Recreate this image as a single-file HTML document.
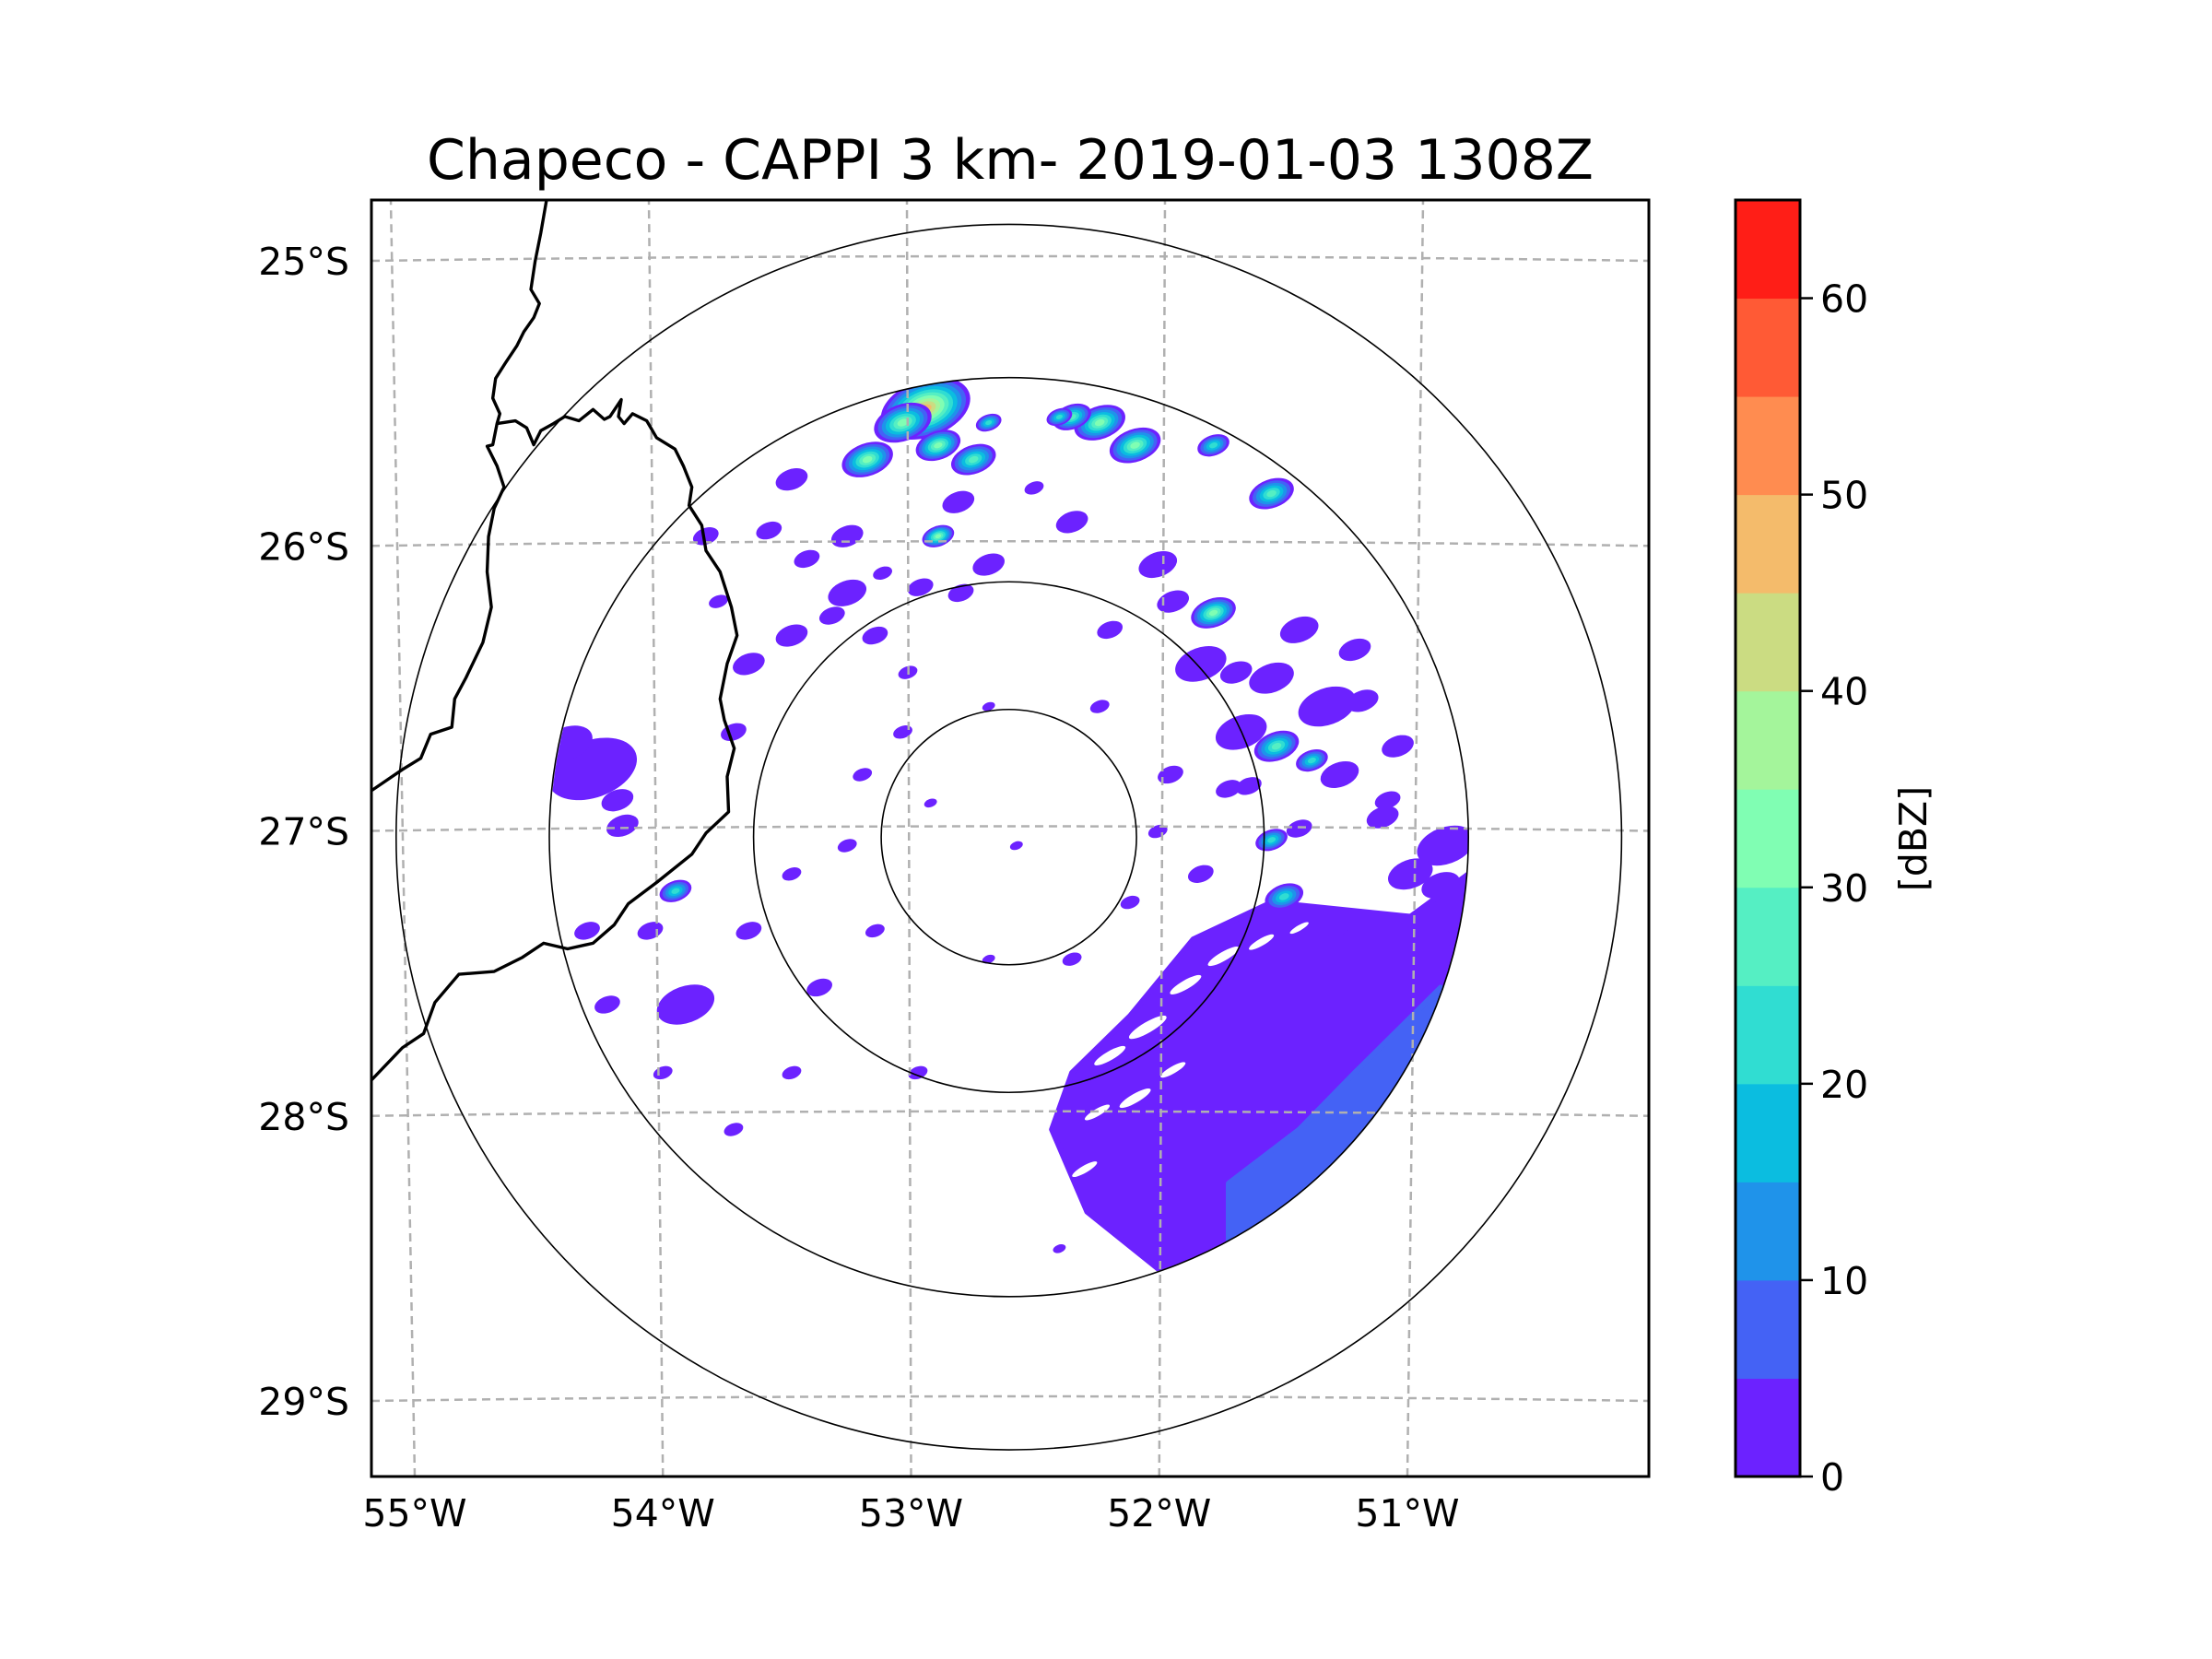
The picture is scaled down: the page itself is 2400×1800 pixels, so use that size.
<!DOCTYPE html>
<html><head><meta charset="utf-8"><title>Chapeco CAPPI</title>
<style>
html,body{margin:0;padding:0;background:#fff;}
svg{display:block;font-family:"DejaVu Sans","Liberation Sans",sans-serif;}
</style></head>
<body>
<svg id="fig" width="2400" height="1800" viewBox="0 0 2400 1800" xmlns="http://www.w3.org/2000/svg">
<rect width="2400" height="1800" fill="#fff"/>
<text x="1096" y="194" font-size="60" text-anchor="middle" fill="#000">Chapeco - CAPPI 3 km- 2019-01-03 1308Z</text>
<defs>
  <clipPath id="axclip"><rect x="403" y="217" width="1386" height="1385"/></clipPath>
  <clipPath id="radclip"><circle cx="1095" cy="908" r="498"/></clipPath>
</defs>
<g id="plot" clip-path="url(#axclip)">
  <g clip-path="url(#radclip)"><g id="echoes"></g></g>
  <g id="grid"></g>
  <g id="rings"></g>
  <g fill="none" stroke="#000" stroke-width="2.2" stroke-linejoin="round" transform="scale(1.532)">
    <polyline points="387,142 383,165 379,185 376,205 382,215 378,225 371,235 366,245 358,257 351,268 349,282 354,293 352,300 349,315 345,316 352,330 357,345 350,360 346,380 345,405 348,430 342,455 330,480 322,495 320,515 305,520 298,537 285,545 263,560"/>
    <polyline points="352,300 365,298 373,303 378,315 383,305 392,300 400,295 410,298 420,290 428,297 432,295 440,283 438,295 442,300 448,293 458,298 465,310 478,318 484,330 490,345 488,358 497,372 500,390 510,405 518,430 522,450 515,470 510,495 513,510 520,530 515,550 516,575 500,590 490,605 465,625 445,640 435,655 420,668 402,672 385,668 370,678 350,688 325,690 308,710 300,732 285,742 263,765"/>
  </g>
</g>
<rect x="403" y="217" width="1386" height="1385" fill="none" stroke="#000" stroke-width="3"/>
<g id="ticks" font-size="41" fill="#000"></g>
<g id="cbar"></g>
<text transform="translate(2090,910) rotate(-90)" font-size="41" text-anchor="middle" fill="#000">[dBZ]</text>
</svg>
<script>
// ---- data ----
const lonTicks = [-55, -54, -53, -52, -51];
const lonTickLabels = ["55°W", "54°W", "53°W", "52°W", "51°W"];
const latTicks = [-25, -26, -27, -28, -29];
const latTickLabels = ["25°S", "26°S", "27°S", "28°S", "29°S"];
const dbzLevels = [0, 5, 10, 15, 20, 25, 30, 35, 40, 45, 50, 55, 60, 65];
const dbzTickValues = [0, 10, 20, 30, 40, 50, 60];
const dbzColors = ["#6c22ff","#4462f5","#1f93ea","#0bbde0","#30ddd2","#55efc3","#80feb3","#a4f59b","#cbdc82","#f4bb6b","#ff8c50","#ff5a35","#ff1e17"];
const ringKm = [50, 100, 180, 240];
const radarLon = -52.60, radarLat = -27.03;
// echo cells
const cellLon = [-52.93,-53.02,-53.16,-52.88,-52.74,-52.24,-52.10,-52.35,-51.79,-51.56,-52.88,-51.79,-51.54,-51.40,-51.56,-51.51,-53.92,-52.40,-52.68,
 -54.25,-53.88,-54.13,-53.46,-53.24,-53.46,-53.63,-53.13,-52.68,-52.35,-52.01,-51.84,-51.56,-51.34,-51.23,-51.06,-50.87,-51.01,-51.12,-51.29,-51.68,
 -51.96,-53.02,-53.18,-52.91,-52.57,-53.24,-53.46,-53.35,-53.63,-53.13,-52.68,-52.35,-52.12,-52.01,-53.46,-53.69,-54.02,-54.27,-54.19,-53.97,-52.96,-52.40,-51.73,-51.84,-52.24,-52.68,-53.69,-53.80,-53.24,-52.79,-50.89,-50.92,
 -54.35,-54.15,-53.40,-53.30,-52.95,-52.80,-52.50,-51.95,-51.70,-51.45,-51.20,-51.10,-51.45,-51.65,-51.30,-53.55,-53.00,-52.20,-53.75,-53.10];
const cellLat = [-25.52,-25.57,-25.70,-25.65,-25.70,-25.57,-25.65,-25.55,-25.65,-25.82,-25.97,-26.24,-26.71,-26.76,-27.04,-27.24,-27.22,-25.55,-25.57,
 -26.79,-27.62,-26.99,-25.77,-26.17,-26.32,-26.42,-26.32,-26.07,-25.92,-26.07,-26.42,-26.47,-26.57,-26.37,-26.71,-27.06,-27.16,-26.96,-26.81,-26.66,
 -26.81,-26.66,-26.81,-26.91,-27.06,-27.06,-27.16,-27.56,-27.36,-27.36,-27.46,-27.46,-27.26,-27.01,-27.86,-28.06,-27.36,-27.36,-27.62,-27.86,-27.86,-28.48,-26.86,-27.16,-26.57,-26.57,-26.66,-25.97,-25.97,-26.17,-27.20,-27.40,
 -26.70,-26.90,-26.05,-26.25,-26.15,-25.85,-25.80,-26.20,-26.45,-26.30,-26.55,-26.90,-27.00,-26.85,-27.35,-25.95,-26.45,-26.30,-26.20,-26.10];
const cellKm = [14,9,8,7,7,8,8,6,5,7,5,7,7,5,5,6,5,4,4,
 14,9,5,5,6,5,5,4,5,5,6,8,7,9,5,5,9,7,5,6,8,
 4,3,3,2,2,3,3,4,4,3,2,3,3,3,3,3,4,4,4,3,3,2,4,4,3,2,4,4,5,4,6,6,
 8,5,4,4,4,5,3,5,5,6,5,4,4,4,4,4,3,4,3,3];
const cellDbz = [47,33,31,30,27,31,30,26,21,26,31,31,25,20,20,22,22,21,21,
 2,3,2,2,2,2,2,2,2,2,2,3,3,4,2,2,3,2,2,2,4,
 1,1,1,1,1,1,1,1,1,1,1,1,1,1,1,1,1,1,1,1,1,1,2,2,1,1,1,1,1,1,2,2,
 1,1,1,1,1,1,1,1,1,1,1,1,1,1,1,1,1,1,1,1];
// large stratiform region (SE)
const regionLon = [-52.35,-52.12,-51.87,-51.56,-51.01,-50.78,-50.67,-51.01,-51.56,-52.01,-52.29,-52.43];
const regionLat = [-27.86,-27.66,-27.39,-27.26,-27.31,-27.16,-27.56,-28.30,-28.65,-28.55,-28.35,-28.06];
const regionDbz = 2;
const coreLon = [-50.89,-50.60,-51.30,-51.73,-51.73,-51.45,-51.23];
const coreLat = [-27.56,-27.70,-28.60,-28.55,-28.25,-28.06,-27.86];
const coreDbz = 7;
// echo-free gaps inside region
const gapLon = [-52.20,-52.05,-51.90,-51.75,-52.25,-52.10,-51.95,-52.30,-51.60,-51.45];
const gapLat = [-27.80,-27.70,-27.55,-27.45,-28.00,-27.95,-27.85,-28.20,-27.40,-27.35];
const gapKm = [5,6,5,5,4,5,4,4,4,3];

// ---- axis functions ----
const X0 = 437, PXLON = 274, Y0 = 283, PXLAT = 308, PXKM = 2.77;
function xOf(lon){ return X0 + (lon + 55) * PXLON; }
function yOf(lat){ return Y0 + (-25 - lat) * PXLAT; }
function colorOf(d){ let i = Math.floor(d/5); return dbzColors[Math.max(0, Math.min(dbzColors.length-1, i))]; }
const NS = "http://www.w3.org/2000/svg";
function mk(tag, attrs, parent){ const e = document.createElementNS(NS, tag); for (const k in attrs) e.setAttribute(k, attrs[k]); parent.appendChild(e); return e; }

// echoes
const echoes = document.getElementById('echoes');
function poly(lons, lats, fill, name){
  const pts = lons.map((l,i)=> xOf(l).toFixed(1)+','+yOf(lats[i]).toFixed(1)).join(' ');
  const p = mk('polygon', {points: pts, fill: fill, stroke: fill, 'stroke-width': 6, 'stroke-linejoin':'round'}, echoes);
  
  
}
poly(regionLon, regionLat, colorOf(regionDbz), 'stratiform-region');
poly(coreLon, coreLat, colorOf(coreDbz), 'stratiform-core');
for (let i = 0; i < gapLon.length; i++){
  const cx = xOf(gapLon[i]), cy = yOf(gapLat[i]), r = gapKm[i]*PXKM;
  const g = mk('ellipse', {cx: cx, cy: cy, rx: r*1.4, ry: r*0.35, fill: '#fff', transform: `rotate(-30 ${cx} ${cy})`}, echoes);
  
  
}
for (let i = 0; i < cellLon.length; i++){
  const cx = xOf(cellLon[i]), cy = yOf(cellLat[i]);
  const n = Math.floor(cellDbz[i]/5);
  const r = cellKm[i] * PXKM;
  for (let k = 0; k <= n; k++){
    const f = 1 - k/(n+1.4);
    const e = mk('ellipse', {cx: cx, cy: cy, rx: (r*1.3*f).toFixed(1), ry: (r*0.8*f).toFixed(1), fill: dbzColors[k], transform: `rotate(-20 ${cx} ${cy})`}, echoes);
    
    
  }
}

// grid
const grid = document.getElementById('grid');
function meridianBottomX(lon){ return 450 + (lon + 55) * 269.25; }
function meridianTopX(lon){ return 424 + (lon + 55) * 280; }
function parallelY(lat){ return 283 + (-25 - lat) * 309.25; }
lonTicks.forEach(lon => {
  const l = mk('line', {x1: meridianBottomX(lon), y1: 1602, x2: meridianTopX(lon), y2: 217, stroke: '#b0b0b0', 'stroke-width': 2.5, 'stroke-dasharray': '9,6'}, grid);
  
  
});
latTicks.forEach(lat => {
  const y = parallelY(lat);
  const p = mk('path', {d: `M403,${y} Q1096,${y-10} 1789,${y}`, fill: 'none', stroke: '#b0b0b0', 'stroke-width': 2.5, 'stroke-dasharray': '9,6'}, grid);
  
  
});

// rings
const rings = document.getElementById('rings');
const rcx = xOf(radarLon), rcy = yOf(radarLat);
ringKm.forEach(km => {
  const c = mk('circle', {cx: rcx, cy: rcy, r: km * PXKM, fill: 'none', stroke: '#000', 'stroke-width': 1.6}, rings);
  
  
});

// tick labels
const ticks = document.getElementById('ticks');
lonTicks.forEach((lon, i) => {
  const t = mk('text', {x: meridianBottomX(lon), y: 1656, 'text-anchor': 'middle'}, ticks);
  t.textContent = lonTickLabels[i];
  
  
});
latTicks.forEach((lat, i) => {
  const t = mk('text', {x: 379, y: parallelY(lat) + 15, 'text-anchor': 'end'}, ticks);
  t.textContent = latTickLabels[i];
  
  
});

// colorbar
const cbar = document.getElementById('cbar');
const CB_X = 1883, CB_W = 70, CB_TOP = 217, CB_BOT = 1602;
function cbY(v){ return CB_BOT - (v - dbzLevels[0]) / (dbzLevels[dbzLevels.length-1] - dbzLevels[0]) * (CB_BOT - CB_TOP); }
for (let i = 0; i < dbzColors.length; i++){
  const y1 = cbY(dbzLevels[i+1]), y0 = cbY(dbzLevels[i]);
  const r = mk('rect', {x: CB_X, y: y1, width: CB_W, height: y0 - y1 + 0.5, fill: dbzColors[i]}, cbar);
  
  
}
const fr = mk('rect', {x: CB_X, y: CB_TOP, width: CB_W, height: CB_BOT - CB_TOP, fill: 'none', stroke: '#000', 'stroke-width': 3}, cbar);


dbzTickValues.forEach(v => {
  const y = cbY(v);
  const tl = mk('line', {x1: CB_X + CB_W, y1: y, x2: CB_X + CB_W + 14, y2: y, stroke: '#000', 'stroke-width': 2.5}, cbar);
  
  
  const t = mk('text', {x: CB_X + CB_W + 22, y: y + 15, 'font-size': 41, fill: '#000'}, cbar);
  t.textContent = String(v);
  
  
});
</script>
</body></html>
